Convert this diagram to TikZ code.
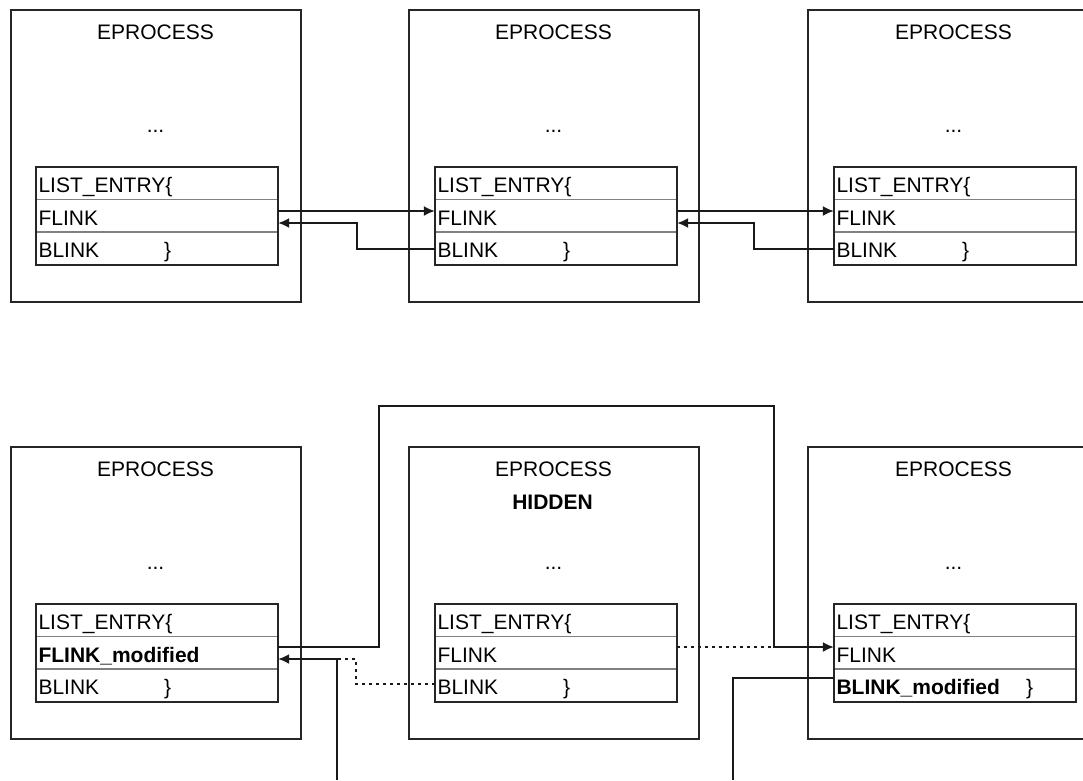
\documentclass[tikz,border=0pt]{standalone}
\usepackage{fontspec}
\setmainfont{Liberation Sans}
\usetikzlibrary{arrows.meta,calc}
\newcommand{\rowstrut}{\rule[-4pt]{0pt}{26pt}}
\newcommand{\mkentry}[6]{%
  \node[row] (L#1) at (#2,#3+16.33) {\rowstrut #4};
  \node[row] (F#1) at (#2,#3+49) {\rowstrut #5};
  \node[row] (B#1) at (#2,#3+81.67) {\rowstrut #6};
  \draw[sep] (F#1.north west) -- (F#1.north east);
  \draw[sep] (B#1.north west) -- (B#1.north east);
  \draw[frame] (L#1.north west) rectangle (B#1.south east);
}
\begin{document}
\begin{tikzpicture}[x=1pt,y=-1pt,
  outer/.style={draw=black!85,line width=1.7pt,minimum width=290pt,minimum height=292pt,inner sep=0pt},
  row/.style={minimum width=242pt,minimum height=32.67pt,inner sep=2.5pt,text width=237pt,align=left,font=\fontsize{21}{25}\selectfont},
  title/.style={font=\fontsize{21}{25}\selectfont,inner sep=0pt},
  frame/.style={draw=black!85,line width=1.7pt},
  sep/.style={draw=black!50,line width=1.4pt},
  link/.style={draw=black!90,line width=1.7pt},
  tip/.style={-{Latex[length=11pt,width=10pt]}},
  dotline/.style={dash pattern=on 3pt off 4pt}
]
\useasboundingbox (0,0) rectangle (1083,780);
\clip (0,0) rectangle (1083,780);

% ---------- top row ----------
\node[outer] (P1) at (156,156) {};
\node[outer] (P2) at (554,156) {};
\node[outer] (P3) at (953,156) {};
\node[title] (T1) at (155.5,32.5) {EPROCESS};
\node[title] (T2) at (553.5,32.5) {EPROCESS};
\node[title] (T3) at (953.5,32.5) {EPROCESS};
\node[title] (D1) at (155.5,131.5) {...};
\node[title] (D2) at (553.5,131.5) {...};
\node[title] (D3) at (953.5,131.5) {...};
\mkentry{1}{157}{167}{LIST\_ENTRY\{}{FLINK}{\makebox[125.5pt][l]{BLINK}\}}
\mkentry{2}{556}{167}{LIST\_ENTRY\{}{FLINK}{\makebox[125.5pt][l]{BLINK}\}}
\mkentry{3}{955}{167}{LIST\_ENTRY\{}{FLINK}{\makebox[125.5pt][l]{BLINK}\}}

\coordinate (c1) at (357,223);
\coordinate (c2) at (754,223);
\draw[link,tip] ($(F1.east)+(0,-5)$) -- ($(F2.west)+(0,-5)$);
\draw[link,tip] (B2.west) -| (c1) -- ($(F1.east)+(0,7)$);
\draw[link,tip] ($(F2.east)+(0,-5)$) -- ($(F3.west)+(0,-5)$);
\draw[link,tip] (B3.west) -| (c2) -- ($(F2.east)+(0,7)$);

% ---------- bottom row ----------
\node[outer] (P4) at (156,593) {};
\node[outer] (P5) at (554,593) {};
\node[outer] (P6) at (953,593) {};
\node[title] (T4) at (155.5,469.5) {EPROCESS};
\node[title] (T5) at (553.5,469.5) {EPROCESS};
\node[title] (T6) at (953.5,469.5) {EPROCESS};
\node[title,font=\fontsize{21}{25}\selectfont\bfseries] (H5) at (552.5,502.5) {HIDDEN};
\node[title] (D4) at (155.5,568.5) {...};
\node[title] (D5) at (553.5,568.5) {...};
\node[title] (D6) at (953.5,568.5) {...};
\mkentry{4}{157}{604}{LIST\_ENTRY\{}{\bfseries FLINK\_modified}{\makebox[125.5pt][l]{BLINK}\}}
\mkentry{5}{556}{604}{LIST\_ENTRY\{}{FLINK}{\makebox[125.5pt][l]{BLINK}\}}
\mkentry{6}{955}{604}{LIST\_ENTRY\{}{FLINK}{\makebox[189.5pt][l]{\bfseries BLINK\_modified}\}}

\coordinate (u1) at (379,406);
\coordinate (u2) at (774,647);
\coordinate (d1) at (356,659);
\coordinate (j1) at (337,659);
\coordinate (e1) at (337,780);
\coordinate (e2) at (733,780);

\draw[link,tip] ($(F4.east)+(0,-6)$) -| (u1) -| (u2) -- ($(F6.west)+(0,-6)$);
\draw[link,dotline] ($(F5.east)+(0,-6)$) -- (u2);
\draw[link,dotline] ($(B5.west)+(0,-1.5)$) -| (d1) -- (j1);
\draw[link,tip] (e1) -- (j1) -- ($(F4.east)+(0,6)$);
\draw[link] (e2) |- ($(B6.west)+(0,-7.5)$);
\end{tikzpicture}
\end{document}
